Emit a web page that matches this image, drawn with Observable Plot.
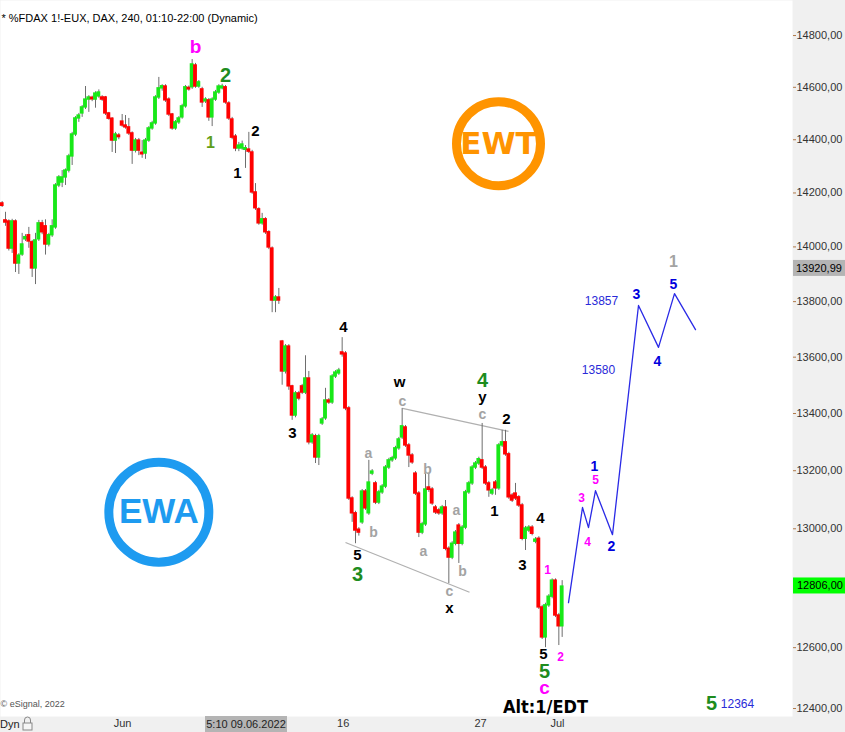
<!DOCTYPE html>
<html><head><meta charset="utf-8">
<script src="https://cdn.jsdelivr.net/npm/d3@7"></script>
<script src="https://cdn.jsdelivr.net/npm/@observablehq/plot@0.6"></script>
<style>body{margin:0;background:#fff}</style>
</head><body><div id="chart"></div>
<script>
// ---- DATA ----
const opens = [
14161,14098,14094,13994,14094,13939,13972,14028,14043,14017,
13921,14028,14087,14076,14009,14043,14072,14228,14239,14258,
14284,14337,14420,14481,14500,14523,14553,14560,14553,14565,
14561,14561,14500,14480,14397,14416,14469,14454,14447,14424,
14359,14397,14351,14348,14397,14443,14462,14561,14596,14603,
14553,14496,14443,14466,14485,14527,14598,14600,14684,14603,
14592,14546,14550,14485,14553,14580,14596,14600,14538,14477,
14412,14367,14367,14362,14363,14352,14202,14139,14087,14102,
14054,13994,13804,13815,13656,13549,13638,13496,13393,13471,
13496,13474,13524,13299,13320,13246,13365,13383,13446,13439,
13531,13542,13617,13613,13418,13104,13053,12997,13022,13128,
13053,13190,13156,13090,13125,13145,13211,13236,13243,13278,
13316,13351,13288,13253,13190,13121,12987,13015,13142,13135,
13073,13063,13053,13073,12932,12902,12949,13011,12949,13004,
13125,13156,13211,13225,13236,13211,13156,13121,13159,13139,
13288,13299,13257,13114,13121,13108,13080,12966,12994,13004,
12956,12966,12734,12634,12741,12770,12824,12707,12671];
const highs = [
14168,14128,14100,14102,14100,13975,14050,14045,14072,14024,
14050,14098,14098,14100,14050,14100,14235,14265,14284,14290,
14345,14428,14488,14500,14530,14603,14568,14566,14583,14590,
14568,14565,14504,14484,14428,14424,14496,14492,14481,14430,
14405,14405,14397,14405,14450,14470,14568,14638,14610,14610,
14560,14500,14473,14488,14535,14607,14605,14707,14692,14626,
14600,14560,14557,14560,14588,14610,14612,14607,14545,14485,
14420,14390,14395,14378,14428,14360,14235,14145,14124,14108,
14060,14000,13822,13848,13660,13645,13645,13500,13478,13478,
13503,13605,13549,13330,13327,13327,13386,13489,13453,13538,
13552,13560,13670,13620,13425,13110,13060,13004,13135,13135,
13236,13204,13163,13132,13152,13218,13243,13250,13285,13316,
13418,13358,13295,13260,13197,13128,13022,13194,13190,13142,
13080,13070,13080,13097,12939,12956,12994,13018,13011,13132,
13163,13218,13232,13247,13365,13218,13163,13139,13166,13295,
13341,13341,13264,13121,13156,13114,13087,13008,13011,13011,
12970,12973,12741,12748,12777,12830,12830,12714,12824];
const lows = [
14146,14076,13985,13976,13906,13899,13965,14020,13995,13888,
13862,14020,14045,13970,14000,14035,14065,14220,14220,14228,
14275,14303,14412,14466,14485,14515,14504,14545,14520,14558,
14546,14492,14474,14352,14348,14400,14447,14440,14416,14307,
14350,14340,14330,14326,14390,14436,14455,14553,14585,14542,
14488,14436,14436,14458,14478,14520,14585,14592,14596,14596,
14523,14538,14470,14450,14546,14573,14590,14535,14473,14400,
14355,14355,14360,14292,14348,14195,14135,14080,14080,14046,
13990,13760,13760,13790,13500,13540,13482,13376,13385,13445,
13467,13467,13290,13292,13225,13218,13358,13376,13432,13432,
13524,13535,13600,13410,13097,13022,12949,12975,13015,13063,
13046,13183,13083,13083,13118,13138,13204,13229,13236,13271,
13309,13281,13211,13222,13114,12970,12980,13008,13125,13080,
13049,13046,13046,12925,12814,12895,12942,12882,12942,12997,
13118,13149,13204,13218,13204,13149,13108,13114,13115,13132,
13281,13250,13101,13090,13097,13073,12959,12926,12987,12976,
12949,12727,12627,12600,12734,12763,12700,12607,12634];
const closes = [
14152,14090,13994,14094,13939,13968,14009,14036,14020,13921,
14024,14087,14054,14009,14043,14076,14228,14258,14258,14284,
14337,14420,14481,14492,14523,14553,14561,14554,14576,14580,
14553,14500,14480,14397,14420,14410,14454,14447,14424,14359,
14397,14359,14345,14397,14443,14462,14561,14596,14604,14550,
14496,14443,14466,14481,14527,14600,14592,14688,14603,14619,
14542,14553,14485,14553,14580,14603,14603,14542,14481,14408,
14367,14378,14382,14368,14355,14202,14143,14087,14102,14054,
13998,13804,13815,13804,13549,13638,13496,13393,13471,13453,
13474,13524,13299,13323,13246,13320,13379,13446,13439,13531,
13545,13552,13610,13418,13104,13053,12994,12987,13128,13070,
13159,13197,13090,13125,13145,13211,13236,13243,13278,13309,
13355,13288,13253,13229,13121,12987,13015,13135,13134,13087,
13056,13053,13073,12932,12902,12949,12987,12949,13004,13125,
13156,13211,13225,13240,13211,13156,13132,13132,13139,13288,
13299,13257,13108,13097,13104,13080,12966,13001,13004,12983,
12963,12734,12634,12741,12770,12824,12707,12671,12804];

// price-axis labels (12800 is hidden behind the last-price flag in the reference)
const yTicks = [12400,12600,13000,13200,13400,13600,13800,14000,14200,14400,14600,14800];
const xTickIdx = [36.1, 102.3, 143.5, 166.6];
const xTickLabels = ["Jun", "16", "27", "Jul"];
const dateFlagIdx = 73.3, dateFlagLabel = "5:10 09.06.2022";
const flagValues = [13920.99, 12806];
const flagLabels = ["13920,99", "12806,00"];

// projected path (bar index, price)
const projIdx   = [169.9, 174.1, 175.9, 178.0, 183.1, 190.9, 196.9, 201.7, 208.0];
const projPrice = [12750, 13073, 13004, 13131, 12980, 13786, 13635, 13829, 13699];

// channel lines
const chanX1 = [120.1, 103.0], chanY1 = [13418, 12953];
const chanX2 = [151.9, 140.2], chanY2 = [13337, 12785];

// wave labels
const labelText  = ["b","2","1","2","1","4","3","w","c","4","y","c","2","a","b","b","a","a","b","c","x","5","3","1","4","3","1","5","5","c","2","3","4","1","5","2","3","4","5","1","13857","13580","Alt:1/EDT","5","12364"];
const labelIdx   = [58.0,67.0,62.5,76.0,70.6,102.4,87.1,119.2,120.1,144.1,144.1,144.1,151.3,109.9,127.6,111.4,126.4,136.3,138.1,134.2,134.2,106.6,106.6,147.7,161.5,156.1,163.6,162.4,162.7,162.7,167.5,173.8,175.6,177.7,178.0,182.8,190.3,196.6,201.4,201.4,179.8,178.9,163.0,212.8,220.6];
const labelPrice = [14754,14646,14389,14431,14273,13706,13330,13510,13443,13517,13457,13397,13379,13260,13204,12988,12923,13063,12855,12786,12733,12909,12845,13059,13035,12875,12858,12578,12520,12468,12568,13104,12953,13215,13169,12939,13826,13584,13862,13946,13800,13552,12403,12416,12413];
const labelStyle = ["magBig","green","greenLt","black","black","black","black","black","gray","green","black","gray","black","gray","gray","gray","gray","gray","gray","gray","black","black","green","black","black","black","magSm","black","green","magBig","magSm","magSm","magSm","blue","magSm","blue","blue","blue","blue","grayBig","blueNum","blueNum","alt","green","blueNum"];

// logos
const logoText = ["EWT", "EWA"];
const logoIdx = [148.9, 47.0];
const logoPrice = [14385, 13057];

// ---- BUILD ----
const FONT = "'Liberation Sans', Arial, sans-serif";
const candles = opens.map((o, i) => ({i, o, h: highs[i], l: lows[i], c: closes[i]}));
const labels = labelText.map((t, k) => ({t, i: labelIdx[k], p: labelPrice[k], s: labelStyle[k]}));
const proj = projIdx.map((i, k) => ({i, p: projPrice[k]}));
const chans = chanX1.map((x1, k) => ({x1, y1: chanY1[k], x2: chanX2[k], y2: chanY2[k]}));
const logos = logoText.map((t, k) => ({t, i: logoIdx[k], p: logoPrice[k]}));

const styles = {
  black:   {fill: "#000", fontSize: 15, fontWeight: "bold"},
  gray:    {fill: "#a3a3a3", fontSize: 14, fontWeight: "bold"},
  grayBig: {fill: "#a3a3a3", fontSize: 16, fontWeight: "bold"},
  green:   {fill: "#1e8c1e", fontSize: 20, fontWeight: "bold"},
  greenLt: {fill: "#5f9e1a", fontSize: 16, fontWeight: "bold"},
  magBig:  {fill: "#ff00ff", fontSize: 19, fontWeight: "bold"},
  magSm:   {fill: "#ff00ff", fontSize: 12, fontWeight: "bold"},
  blue:    {fill: "#0000dd", fontSize: 14, fontWeight: "bold"},
  blueNum: {fill: "#2a2ad8", fontSize: 12, fontWeight: "normal"},
  alt:     {fill: "#000", fontSize: 18, fontWeight: "bold", fontFamily: "'Liberation Sans Narrow', 'DejaVu Sans Condensed', sans-serif"}
};
const labelMarks = Object.entries(styles).map(([name, st]) =>
  Plot.text(labels.filter(d => d.s === name), {x: "i", y: "p", text: "t", fontFamily: FONT, ...st}));

const tickLabelMap = new Map(xTickIdx.map((v, k) => [v, xTickLabels[k]]));

function overlay(index, scales, values, dims) {
  const {width, height, marginRight, marginBottom} = dims;
  const g = d3.create("svg:g").attr("font-family", FONT).attr("font-size", 11).attr("text-anchor", "start");
  const left = width - marginRight + 1;
  flagValues.forEach((v, k) => {
    const py = scales.y(v);
    g.append("rect").attr("x", left).attr("y", py - 8).attr("width", marginRight).attr("height", 16)
      .attr("fill", k === 0 ? "#b4b4b4" : "#00ff00");
    g.append("text").attr("x", left + (k === 0 ? 3 : 4)).attr("y", py).attr("dy", "0.35em")
      .attr("text-anchor", "start").attr("fill", "#000").text(flagLabels[k]);
  });
  const cx = scales.x(dateFlagIdx);
  g.append("rect").attr("x", cx - 41).attr("y", height - marginBottom).attr("width", 82).attr("height", marginBottom).attr("fill", "#b4b4b4");
  g.append("text").attr("x", cx).attr("y", height - marginBottom / 2).attr("dy", "0.35em")
    .attr("text-anchor", "middle").attr("fill", "#222").text(dateFlagLabel);
  // "Dyn" + lock icon
  g.append("text").attr("x", 0).attr("y", height - marginBottom / 2).attr("dy", "0.35em")
    .attr("text-anchor", "start").attr("fill", "#222").text("Dyn");
  const lk = g.append("g").attr("fill", "none").attr("stroke", "#888").attr("stroke-width", 1);
  lk.append("path").attr("d", `M24.5,${height - 9} v-3 a3,3 0 0 1 6,0 v3`);
  lk.append("rect").attr("x", 23).attr("y", height - 9).attr("width", 9).attr("height", 7).attr("fill", "#f6f6f6");
  return g.node();
}

const chart = Plot.plot({
  width: 845, height: 732,
  marginLeft: 0, marginRight: 53, marginTop: 0, marginBottom: 16,
  style: {background: "#f0f0f0", fontFamily: FONT, fontSize: "11px", color: "#333", overflow: "visible"},
  x: {domain: [-0.5, 237.1], ticks: xTickIdx, tickFormat: d => tickLabelMap.get(d), tickSize: 0, tickPadding: 3, label: null},
  y: {type: "log", domain: [12374, 14937], ticks: yTicks, tickFormat: d => d.toFixed(2).replace(".", ","),
      axis: "right", tickSize: 3, tickPadding: 1, label: null},
  marks: [
    Plot.frame({fill: "white", stroke: "none"}),
    // logos
    Plot.dot(logos.slice(0, 1), {x: "i", y: "p", r: 42, stroke: "#ff9400", strokeWidth: 9, fill: "none"}),
    Plot.text(logos.slice(0, 1), {x: "i", y: "p", text: "t", fill: "#ff9400", fontSize: 31, fontWeight: "bold", fontFamily: "'DejaVu Sans', sans-serif"}),
    Plot.dot(logos.slice(1), {x: "i", y: "p", r: 50, stroke: "#1e9bf0", strokeWidth: 9, fill: "none"}),
    Plot.text(logos.slice(1), {x: "i", y: "p", text: "t", fill: "#1e9bf0", fontSize: 35, fontWeight: "bold", fontFamily: FONT}),
    // channel
    Plot.link(chans, {x1: "x1", y1: "y1", x2: "x2", y2: "y2", stroke: "#b0b0b0", strokeWidth: 1.2}),
    // candles
    Plot.ruleX(candles, {x: "i", y1: "l", y2: "h", stroke: "#6e6e6e", strokeWidth: 1}),
    Plot.rect(candles, {x1: d => d.i - 0.58, x2: d => d.i + 0.58, y1: "o", y2: "c",
      fill: d => d.c >= d.o ? "#18e818" : "#ff0000", insetTop: -0.7, insetBottom: -0.7}),
    // projection
    Plot.line(proj, {x: "i", y: "p", stroke: "#2a2ae6", strokeWidth: 1.3}),
    ...labelMarks,
    // title and copyright
    Plot.text(["* %FDAX 1!-EUX, DAX, 240, 01:10-22:00 (Dynamic)"], {frameAnchor: "top-left", dx: 1, dy: 14, textAnchor: "start", fill: "#000", fontSize: 11}),
    Plot.text(["© eSignal, 2022"], {frameAnchor: "bottom-left", dx: 0, dy: -10, textAnchor: "start", fill: "#555", fontSize: 9}),
    overlay
  ]
});
// tint the price-axis tick marks like the reference
d3.select(chart).selectAll('[aria-label="y-axis"] line, [aria-label="y-axis tick"] path, [aria-label="y-axis tick"]')
  .attr("stroke", "#b07a4a");
document.getElementById("chart").appendChild(chart);
</script>
</body></html>
